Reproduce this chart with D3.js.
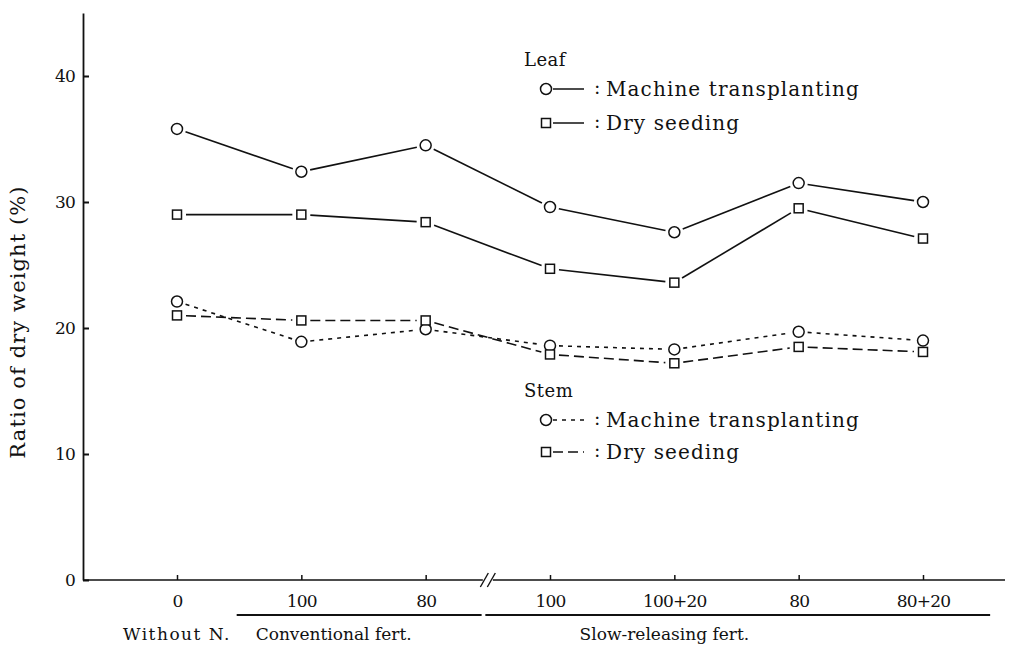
<!DOCTYPE html>
<html><head><meta charset="utf-8">
<script src="https://cdn.jsdelivr.net/npm/d3@7"></script>
<style>body{margin:0;background:#fff}svg{display:block}text{font-family:"DejaVu Serif",serif;fill:#111}</style>
</head><body><svg id="c" width="1016" height="647"></svg>
<script>
const categories = ["0","100","80","100","100+20","80","80+20"];
const leafMT = [35.8, 32.4, 34.5, 29.6, 27.6, 31.5, 30.0];
const leafDS = [29.0, 29.0, 28.4, 24.7, 23.6, 29.5, 27.1];
const stemMT = [22.1, 18.9, 19.9, 18.6, 18.3, 19.7, 19.0];
const stemDS = [21.0, 20.6, 20.6, 17.9, 17.2, 18.5, 18.1];
const yTicks = [0, 10, 20, 30, 40];
const groups = [
  {label:"Without N.", from:0, to:0},
  {label:"Conventional fert.", from:1, to:2},
  {label:"Slow-releasing fert.", from:3, to:6}
];

const FONT = "DejaVu Serif, serif";
const svg = d3.select("#c");
const x = d3.scaleLinear().domain([0, categories.length-1]).range([177, 923]);
const y = d3.scaleLinear().domain([0, 45]).range([580, 13]);
const X0 = 83, X1 = 1005;

// Y axis
const ya = svg.append("g").attr("transform", `translate(${X0},0)`)
  .call(d3.axisLeft(y).tickValues(yTicks).tickSizeInner(-6).tickSizeOuter(0).tickPadding(8));
ya.select(".domain").attr("stroke","#111").attr("stroke-width",1.8);
ya.selectAll(".tick line").attr("stroke","#111").attr("stroke-width",2);
ya.selectAll(".tick text").attr("font-size",17).attr("font-family",FONT).attr("letter-spacing",-0.8);

// X axis
const xa = svg.append("g").attr("transform", `translate(0,${y(0)})`)
  .call(d3.axisBottom(x).tickValues(d3.range(categories.length)).tickFormat(i => categories[i]).tickSizeInner(-5).tickSizeOuter(0).tickPadding(15));
xa.select(".domain").attr("d", `M${X0},0H${X1}`).attr("stroke","#111").attr("stroke-width",1.6);
xa.selectAll(".tick line").attr("stroke","#111").attr("stroke-width",1.5);
xa.selectAll(".tick text").attr("font-size",17).attr("font-family",FONT).attr("letter-spacing",-0.8);

// axis break
const bx = (x(2)+x(3))/2;
svg.append("rect").attr("x", bx-5).attr("y", y(0)-3).attr("width", 10).attr("height", 6).attr("fill","#fff");
[-3.5, 3.5].forEach(o => svg.append("line")
  .attr("x1", bx+o-4).attr("y1", y(0)+7).attr("x2", bx+o+4).attr("y2", y(0)-7)
  .attr("stroke","#111").attr("stroke-width",1.4));

// group underlines and labels
const step = x(1)-x(0);
const labelShift = [0, -0.24, -0.58];
const labelSpacing = [1.5, 0, 0];
groups.forEach((g, i) => {
  const cx = (x(g.from)+x(g.to))/2 + labelShift[i]*step;
  if (g.from !== g.to) {
    svg.append("line").attr("x1", x(g.from)-0.52*step).attr("x2", x(g.to)+(i===2?0.54:0.45)*step)
      .attr("y1", 615).attr("y2", 615).attr("stroke","#111").attr("stroke-width",1.8);
  }
  svg.append("text").attr("x", cx).attr("y", 640).attr("text-anchor","middle")
    .attr("font-size",17).attr("letter-spacing",labelSpacing[i]).text(g.label);
});

// Y label
svg.append("text").attr("transform","translate(25,322) rotate(-90)")
  .attr("text-anchor","middle").attr("font-size",21).attr("letter-spacing",1.1).text("Ratio of dry weight (%)");

// series
const series = [
  {vals: leafMT, shape:"circle", dash:null},
  {vals: leafDS, shape:"square", dash:null},
  {vals: stemMT, shape:"circle", dash:"4,5"},
  {vals: stemDS, shape:"square", dash:"10,5"}
];
function seg(p, q, g) {
  const dx=q[0]-p[0], dy=q[1]-p[1], L=Math.hypot(dx,dy);
  return [p[0]+dx*g/L, p[1]+dy*g/L, q[0]-dx*g/L, q[1]-dy*g/L];
}
function marker(g, shape, cx, cy) {
  if (shape==="circle") g.append("circle").attr("cx",cx).attr("cy",cy).attr("r",5.5)
    .attr("fill","#fff").attr("stroke","#111").attr("stroke-width",1.5);
  else g.append("rect").attr("x",cx-4.5).attr("y",cy-4.5).attr("width",9).attr("height",9)
    .attr("fill","#fff").attr("stroke","#111").attr("stroke-width",1.5);
}
const gl = svg.append("g");
series.forEach(s => {
  const pts = s.vals.map((v,i)=>[x(i), y(v)]);
  for (let i=0;i<pts.length-1;i++){
    const [a,b,c,d] = seg(pts[i], pts[i+1], 9);
    gl.append("line").attr("x1",a).attr("y1",b).attr("x2",c).attr("y2",d)
      .attr("stroke","#111").attr("stroke-width",1.6).attr("stroke-dasharray", s.dash);
  }
});
series.forEach(s => s.vals.forEach((v,i)=>marker(gl, s.shape, x(i), y(v))));

// legends
const legends = [
  {title:"Leaf", ty:66, rows:[{shape:"circle",dash:null,label:"Machine transplanting",yy:89},
                               {shape:"square",dash:null,label:"Dry seeding",yy:123}]},
  {title:"Stem", ty:397, rows:[{shape:"circle",dash:"4,5",label:"Machine transplanting",yy:420},
                                {shape:"square",dash:"10,5",label:"Dry seeding",yy:452}]}
];
const lg = svg.append("g");
legends.forEach(L => {
  lg.append("text").attr("x",524).attr("y",L.ty).attr("font-size",18).attr("letter-spacing",0.5).text(L.title);
  L.rows.forEach(r => {
    lg.append("line").attr("x1",553).attr("x2",584).attr("y1",r.yy).attr("y2",r.yy)
      .attr("stroke","#111").attr("stroke-width",1.5).attr("stroke-dasharray", r.dash);
    marker(lg, r.shape, 546, r.yy);
    lg.append("text").attr("x",594).attr("y",r.yy+5).attr("font-size",19).text(":");
    lg.append("text").attr("x",606).attr("y",r.yy+7).attr("font-size",20).attr("letter-spacing",1.1).text(r.label);
  });
});
</script></body></html>
